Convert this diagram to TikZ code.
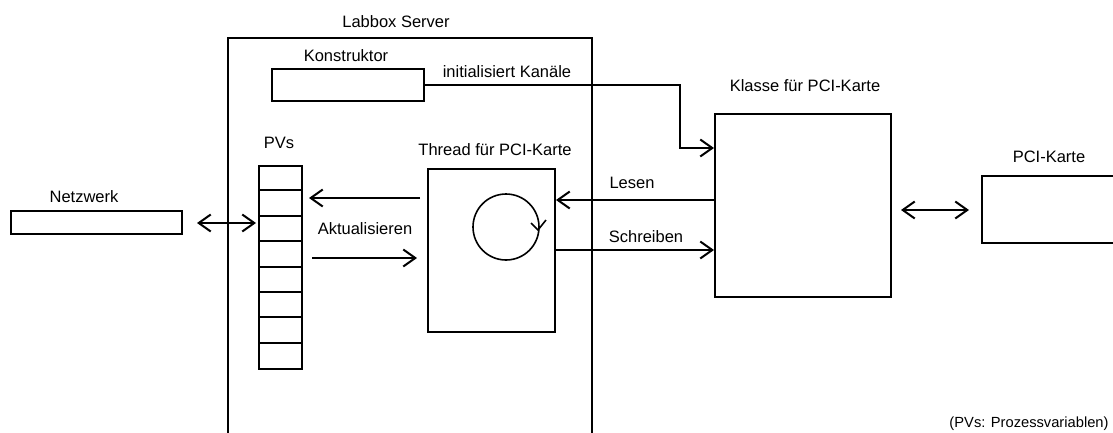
\documentclass[tikz,border=0pt]{standalone}
\usepackage{fontspec}
\setmainfont{Liberation Sans}
\usetikzlibrary{arrows.meta}
\begin{document}
\begin{tikzpicture}[x=1pt,y=-1pt,
  box/.style={draw,line width=2pt,inner sep=0pt,fill=white},
  lbl/.style={font=\fontsize{16.5}{19}\selectfont,inner sep=0pt,anchor=base},
  note/.style={font=\fontsize{14.7}{17}\selectfont,inner sep=0pt,anchor=base},
  barb/.tip={Straight Barb[length=12pt,width=17pt,line width=2pt]},
  arr/.style={line width=2pt,-barb},
  darr/.style={line width=2pt,barb-barb},
]
\useasboundingbox (0,0) rectangle (1113,432);
\clip (0,0) rectangle (1113,432);

% boxes
\node[box,minimum width=364pt,minimum height=432pt] (server) at (410,254) {};
\node[box,minimum width=152pt,minimum height=32pt] (konst) at (348,85) {};
\node[box,minimum width=176pt,minimum height=183pt] (klasse) at (803,205.5) {};
\node[box,minimum width=127pt,minimum height=163pt] (thread) at (491.5,250.5) {};
\node[box,minimum width=43pt,minimum height=203pt] (pvs) at (280.5,267.5) {};
\node[box,minimum width=171pt,minimum height=23pt] (netz) at (96.5,222.5) {};
\node[box,minimum width=148pt,minimum height=67pt] (pci) at (1056,209.5) {};

% cells of the PV table
\foreach \i in {1,...,7}
  \draw[line width=2pt] ([yshift=-\i*25.375pt]pvs.north west) -- ([yshift=-\i*25.375pt]pvs.north east);

% loop symbol inside the thread
\draw[line width=1.6pt] (506,227) circle[radius=33pt];
\draw[line width=1.6pt] (531,223) -- (538,230) -- (546,220);

% labels
\node[lbl] (lserver) at (396,27) {Labbox Server};
\node[lbl] (lkonst) at (346,61) {Konstruktor};
\node[lbl] (linit) at (507,77) {initialisiert Kanäle};
\node[lbl] (lklasse) at (805,91) {Klasse für PCI-Karte};
\node[lbl] (lpvs) at (279,148) {PVs};
\node[lbl] (lthread) at (495,155) {Thread für PCI-Karte};
\node[lbl] (lnetz) at (84,202) {Netzwerk};
\node[lbl] (lakt) at (365,234) {Aktualisieren};
\node[lbl] (llesen) at (632,188) {Lesen};
\node[lbl] (lschreib) at (646,242) {Schreiben};
\node[lbl] (lpci) at (1049,162) {PCI-Karte};
\node[note] (lnote) at (1029,427) {(PVs: Prozessvariablen)};

% rows of the connectors
\coordinate (kbend) at (680,148);
\coordinate (rowLesen) at (0,200);
\coordinate (rowSchreib) at (0,250);
\coordinate (rowPV) at (0,198);
\coordinate (rowAkt) at (0,258);
\coordinate (rowNetz) at (0,223);
\coordinate (rowPci) at (0,210);

% connectors
\draw[arr] (konst.east) -| (kbend) -- (kbend -| klasse.west);
\draw[arr] (klasse.west |- rowLesen) -- (thread.east |- rowLesen);
\draw[arr] (thread.east |- rowSchreib) -- (klasse.west |- rowSchreib);
\draw[arr,shorten <=7pt,shorten >=6pt] (thread.west |- rowPV) -- (pvs.east |- rowPV);
\draw[arr,shorten <=9pt,shorten >=10pt] (pvs.east |- rowAkt) -- (thread.west |- rowAkt);
\draw[darr,shorten <=14pt,shorten >=2pt] (netz.east |- rowNetz) -- (pvs.west |- rowNetz);
\draw[darr,shorten <=9pt,shorten >=12pt] (klasse.east |- rowPci) -- (pci.west |- rowPci);
\end{tikzpicture}
\end{document}
